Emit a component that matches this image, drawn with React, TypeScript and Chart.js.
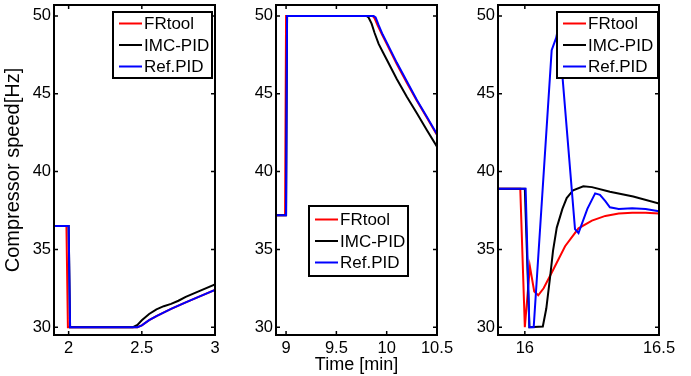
import React, { useEffect, useRef } from 'react';
import { Chart, registerables } from 'chart.js';

Chart.register(...registerables);

// ---------- data ----------
const seriesNames = ['FRtool', 'IMC-PID', 'Ref.PID'];
const seriesColors = ['#ff0000', '#000000', '#0000ff'];
const yTicks = [30, 35, 40, 45, 50];

// Panel 1 (t = 1.9 .. 3 min)
const p1XTicks = [2, 2.5, 3];
const p1FrT = [1.9, 1.985, 1.995, 2.47, 2.5, 2.55, 2.6, 2.7, 2.8, 2.9, 3.0];
const p1FrV = [36.5, 36.5, 30, 30, 30.12, 30.45, 30.72, 31.18, 31.6, 32.0, 32.4];
const p1ImcT = [1.9, 2.0, 2.01, 2.44, 2.47, 2.5, 2.55, 2.6, 2.65, 2.7, 2.75, 2.8, 2.9, 3.0];
const p1ImcV = [36.5, 36.5, 30, 30, 30.15, 30.45, 30.85, 31.15, 31.35, 31.5, 31.7, 31.95, 32.35, 32.75];
const p1RefT = [1.9, 2.0, 2.01, 2.47, 2.5, 2.55, 2.6, 2.7, 2.8, 2.9, 3.0];
const p1RefV = [36.5, 36.5, 30, 30, 30.12, 30.45, 30.72, 31.18, 31.6, 32.0, 32.4];

// Panel 2 (t = 8.9 .. 10.5 min)
const p2XTicks = [9, 9.5, 10, 10.5];
const p2FrT = [8.9, 8.99, 9.0, 9.86, 9.88, 9.91, 9.95, 10.0, 10.1, 10.2, 10.3, 10.4, 10.5];
const p2FrV = [37.2, 37.2, 50, 50, 49.85, 49.4, 48.85, 48.2, 46.9, 45.7, 44.55, 43.45, 42.35];
const p2ImcT = [8.9, 9.0, 9.01, 9.8, 9.82, 9.85, 9.88, 9.92, 9.96, 10.0, 10.1, 10.2, 10.3, 10.4, 10.5];
const p2ImcV = [37.2, 37.2, 50, 50, 49.9, 49.5, 48.9, 48.2, 47.7, 47.2, 45.95, 44.8, 43.75, 42.65, 41.6];
const p2RefT = [8.9, 9.0, 9.01, 9.87, 9.89, 9.92, 9.96, 10.0, 10.1, 10.2, 10.3, 10.4, 10.5];
const p2RefV = [37.2, 37.2, 50, 50, 49.9, 49.4, 48.8, 48.3, 47.0, 45.8, 44.6, 43.5, 42.4];

// Panel 3 (t = 15.9 .. 16.5 min)
const p3XTicks = [16, 16.5];
const p3FrT = [15.9, 15.983, 16.0, 16.019, 16.035, 16.05, 16.07, 16.1, 16.15, 16.2, 16.25, 16.3, 16.35, 16.4, 16.45, 16.5];
const p3FrV = [38.9, 38.9, 30, 33.9, 32.3, 32.05, 32.5, 33.5, 35.2, 36.35, 36.85, 37.15, 37.3, 37.35, 37.35, 37.3];
const p3ImcT = [15.9, 16.0, 16.017, 16.067, 16.08, 16.094, 16.105, 16.119, 16.14, 16.156, 16.18, 16.218, 16.25, 16.317, 16.404, 16.5];
const p3ImcV = [38.9, 38.9, 30, 30.05, 31.2, 33.2, 34.9, 36.4, 37.6, 38.3, 38.8, 39.05, 39.0, 38.7, 38.4, 37.95];
const p3RefT = [15.9, 16.003, 16.017, 16.033, 16.1, 16.117, 16.125, 16.187, 16.2, 16.233, 16.262, 16.28, 16.3, 16.317, 16.35, 16.4, 16.45, 16.5];
const p3RefV = [38.9, 38.9, 30, 30, 47.8, 48.6, 49.3, 36.3, 36.05, 37.6, 38.6, 38.5, 38.1, 37.7, 37.6, 37.65, 37.6, 37.45];

const yTitle = 'Compressor speed[Hz]';
const xTitle = 'Time [min]';

// ---------- layout / style ----------
const W = 691;
const H = 376;
const FONT = 'Liberation Sans, Arial, Helvetica, sans-serif';
const Y_AXIS_W = 54;
const X_AXIS_H = 41;

type Panel = {
  xMin: number; xMax: number; xTicks: number[];
  areaLeft: number; areaRight: number;
  series: { t: number[]; v: number[] }[];
  showYTitle: boolean; showXTitle: boolean;
  legend: { anchor: 'right' | 'left'; dx: number; dy: number; w: number; h: number };
};

const panels: Panel[] = [
  {
    xMin: 1.9, xMax: 3, xTicks: p1XTicks, areaLeft: 54, areaRight: 215,
    series: [{ t: p1FrT, v: p1FrV }, { t: p1ImcT, v: p1ImcV }, { t: p1RefT, v: p1RefV }],
    showYTitle: true, showXTitle: false,
    legend: { anchor: 'right', dx: 3, dy: 7, w: 99, h: 66 },
  },
  {
    xMin: 8.9, xMax: 10.5, xTicks: p2XTicks, areaLeft: 276, areaRight: 437,
    series: [{ t: p2FrT, v: p2FrV }, { t: p2ImcT, v: p2ImcV }, { t: p2RefT, v: p2RefV }],
    showYTitle: false, showXTitle: true,
    legend: { anchor: 'left', dx: 33, dy: 201, w: 99, h: 70 },
  },
  {
    xMin: 15.9, xMax: 16.5, xTicks: p3XTicks, areaLeft: 498, areaRight: 659,
    series: [{ t: p3FrT, v: p3FrV }, { t: p3ImcT, v: p3ImcV }, { t: p3RefT, v: p3RefV }],
    showYTitle: false, showXTitle: false,
    legend: { anchor: 'right', dx: 1, dy: 7, w: 101, h: 66 },
  },
];

function makePlugin(p: Panel) {
  return {
    id: 'matlabFrame',
    afterDatasetsDraw(chart: any) {
      const { ctx, chartArea: a } = chart;
      const xs = chart.scales.x;
      const ys = chart.scales.y;
      const tl = 4;
      ctx.save();
      ctx.strokeStyle = '#000';
      ctx.lineWidth = 1.5;
      ctx.beginPath();
      xs.ticks.forEach((t: any) => {
        const px = xs.getPixelForValue(t.value);
        ctx.moveTo(px, a.bottom);
        ctx.lineTo(px, a.bottom - tl);
        ctx.moveTo(px, a.top);
        ctx.lineTo(px, a.top + tl);
      });
      ys.ticks.forEach((t: any) => {
        const py = ys.getPixelForValue(t.value);
        ctx.moveTo(a.left, py);
        ctx.lineTo(a.left + tl, py);
        ctx.moveTo(a.right, py);
        ctx.lineTo(a.right - tl, py);
      });
      ctx.stroke();
      ctx.lineWidth = 2;
      ctx.strokeRect(a.left, a.top, a.right - a.left, a.bottom - a.top);
      ctx.restore();
    },
    afterDraw(chart: any) {
      const { ctx, chartArea: a } = chart;
      const L = p.legend;
      const bx = L.anchor === 'right' ? a.right - L.dx - L.w : a.left + L.dx;
      const by = a.top + L.dy;
      ctx.save();
      ctx.fillStyle = '#fff';
      ctx.fillRect(bx, by, L.w, L.h);
      ctx.strokeStyle = '#000';
      ctx.lineWidth = 2;
      ctx.strokeRect(bx, by, L.w, L.h);
      ctx.font = `17px ${FONT}`;
      ctx.textBaseline = 'middle';
      ctx.textAlign = 'left';
      chart.data.datasets.forEach((ds: any, i: number) => {
        const cy = by + L.h / 2 + (i - 1) * 21.5;
        ctx.strokeStyle = ds.borderColor;
        ctx.lineWidth = 2;
        ctx.beginPath();
        ctx.moveTo(bx + 6, cy);
        ctx.lineTo(bx + 29, cy);
        ctx.stroke();
        ctx.fillStyle = '#000';
        ctx.fillText(ds.label, bx + 31, cy + 1);
      });
      ctx.restore();
    },
  };
}

function makeConfig(p: Panel): any {
  const tickFont = { family: FONT, size: 16.5 };
  return {
    type: 'line',
    data: {
      datasets: p.series.map((s, i) => ({
        label: seriesNames[i],
        data: s.t.map((t, j) => ({ x: t, y: s.v[j] })),
        borderColor: seriesColors[i],
        backgroundColor: seriesColors[i],
        borderWidth: 2,
        pointRadius: 0,
        tension: 0,
        fill: false,
        // later series drawn on top (MATLAB plot order)
        order: seriesNames.length - 1 - i,
      })),
    },
    options: {
      animation: false,
      responsive: false,
      events: [],
      layout: { padding: { left: p.areaLeft - Y_AXIS_W, right: W - p.areaRight, top: 5, bottom: 0 } },
      plugins: { legend: { display: false }, tooltip: { enabled: false } },
      scales: {
        x: {
          type: 'linear',
          min: p.xMin,
          max: p.xMax,
          afterBuildTicks: (sc: any) => { sc.ticks = p.xTicks.map((v) => ({ value: v })); },
          afterFit: (sc: any) => { sc.height = X_AXIS_H; sc.paddingLeft = 0; sc.paddingRight = 0; },
          grid: { display: false, drawTicks: false },
          border: { display: false },
          ticks: { padding: 4, font: tickFont, color: '#000', maxRotation: 0, autoSkip: false, callback: (v: any) => String(v) },
          title: { display: p.showXTitle, text: xTitle, color: '#000', font: { family: FONT, size: 18 }, padding: { top: 0, bottom: 0 } },
        },
        y: {
          type: 'linear',
          min: 29.5,
          max: 50.7,
          afterBuildTicks: (sc: any) => { sc.ticks = yTicks.map((v) => ({ value: v })); },
          afterFit: (sc: any) => { sc.width = Y_AXIS_W; sc.paddingTop = 0; sc.paddingBottom = 0; },
          grid: { display: false, drawTicks: false },
          border: { display: false },
          ticks: { padding: 3, font: tickFont, color: '#000', autoSkip: false, callback: (v: any) => String(v) },
          title: { display: p.showYTitle, text: yTitle, color: '#000', font: { family: FONT, size: 20 }, padding: { top: 1, bottom: 0 } },
        },
      },
    },
    plugins: [makePlugin(p)],
  };
}

function PanelCanvas({ p }: { p: Panel }) {
  const ref = useRef<HTMLCanvasElement | null>(null);
  useEffect(() => {
    if (!ref.current) return;
    const chart = new Chart(ref.current, makeConfig(p));
    return () => chart.destroy();
  }, [p]);
  return (
    <canvas
      ref={ref}
      width={W}
      height={H}
      style={{ position: 'absolute', left: 0, top: 0, width: W, height: H }}
    />
  );
}

export default function App() {
  return (
    <div style={{ position: 'absolute', left: 0, top: 0, width: W, height: H, background: '#fff' }}>
      {panels.map((p, i) => (
        <PanelCanvas key={i} p={p} />
      ))}
    </div>
  );
}
